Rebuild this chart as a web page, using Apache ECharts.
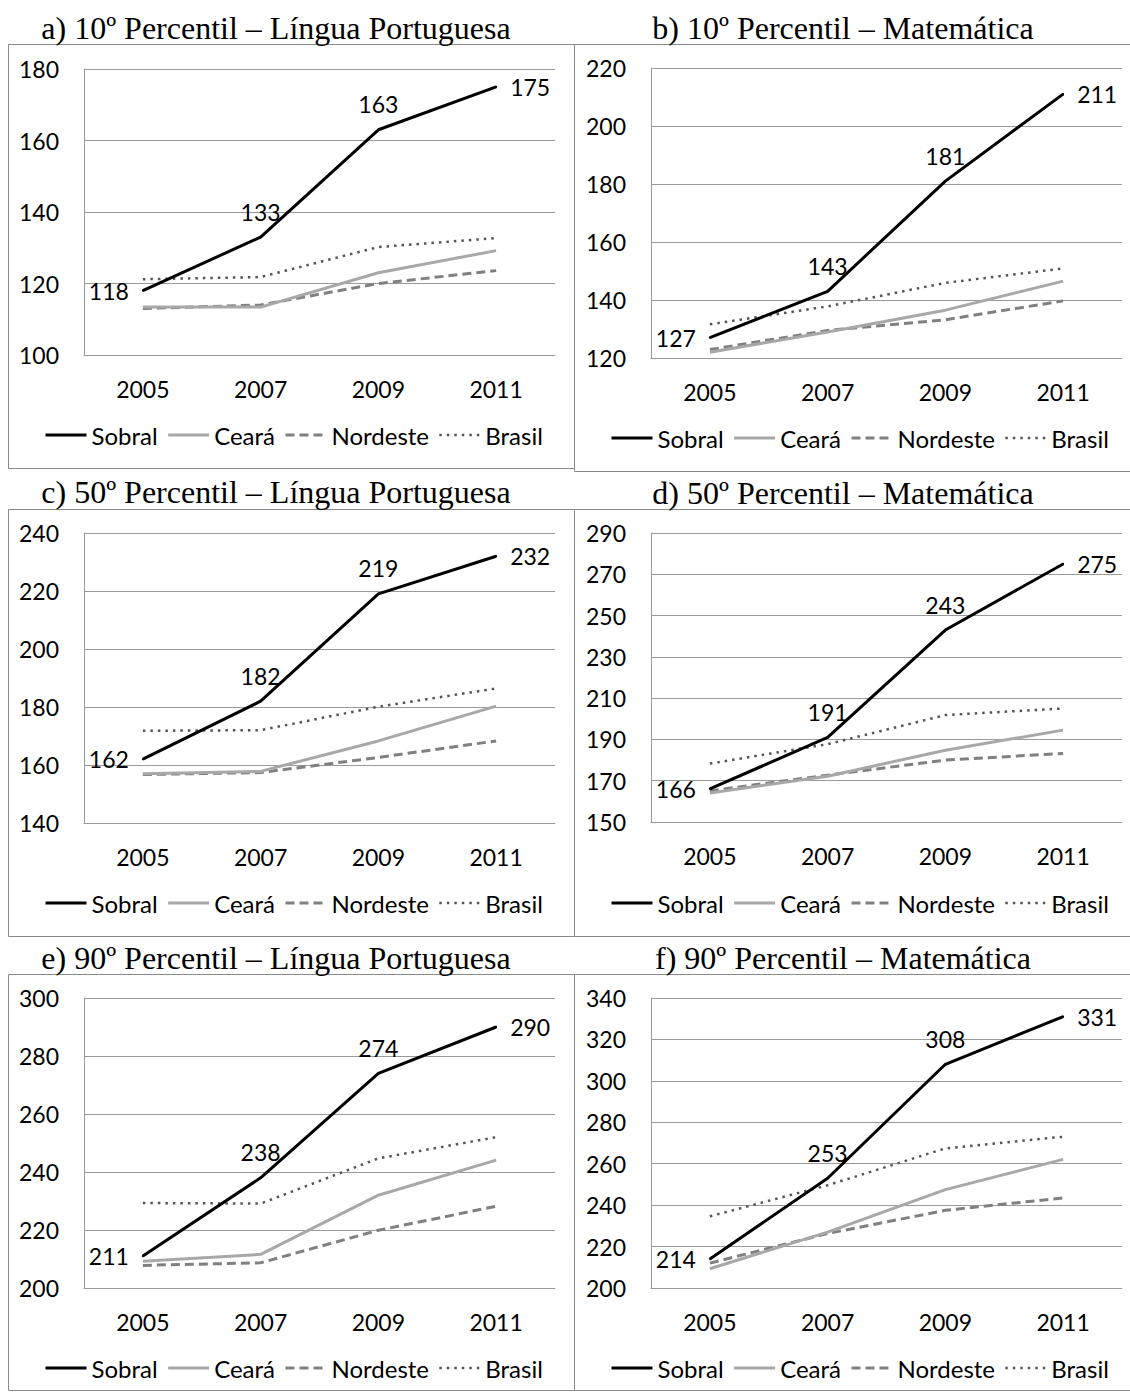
<!DOCTYPE html>
<html>
<head>
<meta charset="utf-8">
<script src="https://cdn.jsdelivr.net/npm/echarts@6/dist/echarts.min.js"></script>
<style>
  html, body { margin: 0; padding: 0; background: #ffffff; }
  #chart { width: 1130px; height: 1393px; }
</style>
</head>
<body>
<div id="chart"></div>
<script>
// Categories and legend names
const years = ['2005', '2007', '2009', '2011'];
const seriesNames = ['Sobral', 'Ceará', 'Nordeste', 'Brasil'];

const panelTitles = [
  'a) 10º Percentil – Língua Portuguesa',
  'b) 10º Percentil – Matemática',
  'c) 50º Percentil – Língua Portuguesa',
  'd) 50º Percentil – Matemática',
  'e) 90º Percentil – Língua Portuguesa',
  'f) 90º Percentil – Matemática'
];

// a) 10º Percentil – Língua Portuguesa
const sobralA = [118, 133, 163, 175];
const cearaA = [113.4, 113.4, 123, 129.2];
const nordesteA = [113, 114, 120, 123.6];
const brasilA = [121.2, 121.8, 130.2, 132.7];

// b) 10º Percentil – Matemática
const sobralB = [127, 143, 181, 211];
const cearaB = [122, 129, 136.5, 146.5];
const nordesteB = [122.9, 129.5, 133.2, 139.7];
const brasilB = [131.6, 137.8, 145.9, 150.9];

// c) 50º Percentil – Língua Portuguesa
const sobralC = [162, 182, 219, 232];
const cearaC = [157, 157.8, 168.3, 180.3];
const nordesteC = [156.7, 157.4, 162.6, 168.3];
const brasilC = [171.8, 172, 180.1, 186.4];

// d) 50º Percentil – Matemática
const sobralD = [166, 191, 243, 275];
const cearaD = [164.1, 172.2, 184.8, 194.5];
const nordesteD = [165.1, 172.7, 180, 183.2];
const brasilD = [178.3, 187.7, 201.8, 205];

// e) 90º Percentil – Língua Portuguesa
const sobralE = [211, 238, 274, 290];
const cearaE = [209.2, 211.6, 232, 244.1];
const nordesteE = [207.8, 208.7, 219.9, 228.2];
const brasilE = [229.3, 229.1, 244.7, 252];

// f) 90º Percentil – Matemática
const sobralF = [214, 253, 308, 331];
const cearaF = [209.3, 227, 247.5, 262.1];
const nordesteF = [212, 226.3, 237.5, 243.5];
const brasilF = [234.6, 249.6, 267.4, 273];

// Value axis ranges (ticks every 20)
const axisMin = [100, 120, 140, 150, 200, 200];
const axisMax = [180, 220, 240, 290, 300, 340];
const axisStep = 20;

const panelData = [
  [sobralA, cearaA, nordesteA, brasilA],
  [sobralB, cearaB, nordesteB, brasilB],
  [sobralC, cearaC, nordesteC, brasilC],
  [sobralD, cearaD, nordesteD, brasilD],
  [sobralE, cearaE, nordesteE, brasilE],
  [sobralF, cearaF, nordesteF, brasilF]
];

// Panel geometry (px)
const layout = [
  { gl: 84,  gt: 69,  gh: 286, bx: 8,   by: 44,  bw: 566, bh: 424, tx: 276, ty: 28,  ly: 423, lx: 44 },
  { gl: 651, gt: 68,  gh: 290, bx: 574, by: 44,  bw: 560, bh: 427, tx: 843, ty: 28,  ly: 426, lx: 610 },
  { gl: 84,  gt: 533, gh: 290, bx: 8,   by: 509, bw: 566, bh: 427, tx: 276, ty: 492, ly: 891, lx: 44 },
  { gl: 651, gt: 533, gh: 289, bx: 574, by: 509, bw: 560, bh: 427, tx: 843, ty: 493, ly: 891, lx: 610 },
  { gl: 84,  gt: 998, gh: 290, bx: 8,   by: 974, bw: 566, bh: 416, tx: 276, ty: 958, ly: 1356, lx: 44 },
  { gl: 651, gt: 998, gh: 290, bx: 574, by: 974, bw: 560, bh: 416, tx: 843, ty: 958, ly: 1356, lx: 610 }
];
const gridWidth = 471;

const FONT = 'Lato, "Open Sans", sans-serif';
const lineStyles = [
  { color: '#000000', width: 3, type: 'solid' },
  { color: '#a8a8a8', width: 3, type: 'solid' },
  { color: '#808080', width: 3, type: [9, 5] },
  { color: '#555555', width: 2.5, type: [2.5, 5] }
];
const sobralLabelPos = ['left', 'top', 'top', 'right'];

// legend entries keep the full stroke of each line
const legendItems = seriesNames.map((name, k) => ({
  name: name,
  lineStyle: {
    color: lineStyles[k].color,
    width: lineStyles[k].width,
    type: lineStyles[k].type,
    cap: 'butt'
  }
}));

const grids = [], xAxes = [], yAxes = [], series = [], legends = [], graphics = [];

layout.forEach((p, i) => {
  // outer frame
  graphics.push({
    type: 'rect',
    shape: { x: p.bx + 0.5, y: p.by + 0.5, width: p.bw, height: p.bh },
    style: { fill: 'none', stroke: '#8a8a8a', lineWidth: 1 },
    silent: true
  });
  // panel heading
  graphics.push({
    type: 'text',
    x: p.tx, y: p.ty,
    style: {
      text: panelTitles[i],
      font: '32px "Liberation Serif", "Times New Roman", serif',
      fill: '#000000',
      textAlign: 'center',
      textVerticalAlign: 'middle'
    },
    silent: true
  });

  grids.push({ left: p.gl, top: p.gt, width: gridWidth, height: p.gh, containLabel: false });

  xAxes.push({
    type: 'category',
    gridIndex: i,
    data: years,
    boundaryGap: true,
    axisLine: { show: true, lineStyle: { color: '#9a9a9a', width: 1 } },
    axisTick: { show: false },
    axisLabel: { color: '#000', fontFamily: FONT, fontSize: 23, margin: 22 },
    splitLine: { show: false }
  });

  yAxes.push({
    type: 'value',
    gridIndex: i,
    min: axisMin[i],
    max: axisMax[i],
    interval: axisStep,
    axisLine: { show: true, lineStyle: { color: '#9a9a9a', width: 1 } },
    axisTick: { show: false },
    axisLabel: { color: '#000', fontFamily: FONT, fontSize: 23, margin: 25 },
    splitLine: { show: true, lineStyle: { color: '#9a9a9a', width: 1 } }
  });

  panelData[i].forEach((vals, k) => {
    const ls = lineStyles[k];
    const s = {
      name: seriesNames[k],
      type: 'line',
      xAxisIndex: i,
      yAxisIndex: i,
      symbol: 'none',
      z: k === 0 ? 5 : 4 - k,
      itemStyle: { color: ls.color },
      lineStyle: { color: ls.color, width: ls.width, type: ls.type, cap: 'butt' },
      emphasis: { disabled: true },
      data: vals
    };
    if (k === 0) {
      // tiny point markers carry the value labels
      s.symbol = 'circle';
      s.symbolSize = 2;
      s.showSymbol = true;
      s.data = vals.map((v, j) => ({
        value: v,
        label: { show: true, position: sobralLabelPos[j] }
      }));
      s.label = {
        show: true,
        color: '#000',
        fontFamily: FONT,
        fontSize: 23,
        distance: 13,
        formatter: (d) => String(d.value)
      };
    }
    series.push(s);
  });

  legends.push({
    data: legendItems,
    left: p.lx,
    top: p.ly,
    padding: 0,
    orient: 'horizontal',
    itemWidth: 41,
    itemHeight: 14,
    itemGap: 9,
    selectedMode: false,
    itemStyle: { color: 'rgba(0,0,0,0)', borderWidth: 0, opacity: 0 },
    textStyle: { color: '#000', fontFamily: FONT, fontSize: 24 }
  });
});

const chart = echarts.init(document.getElementById('chart'), null, { renderer: 'svg' });
chart.setOption({
  animation: false,
  backgroundColor: '#ffffff',
  grid: grids,
  xAxis: xAxes,
  yAxis: yAxes,
  legend: legends,
  series: series,
  graphic: graphics
});
</script>
</body>
</html>
